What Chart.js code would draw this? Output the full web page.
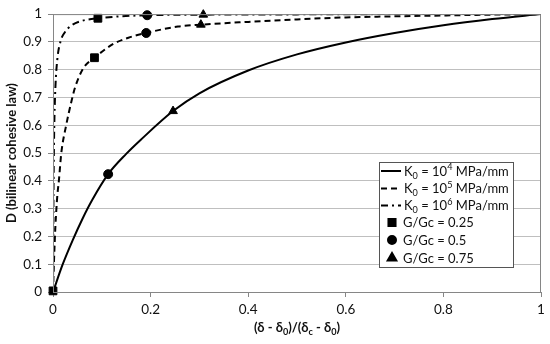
<!DOCTYPE html>
<html>
<head>
<meta charset="utf-8">
<script src="https://cdn.jsdelivr.net/npm/chart.js@4"></script>
<style>
  html, body { margin: 0; padding: 0; background: #fff; }
  #wrap { width: 550px; height: 344px; }
</style>
</head>
<body>
<div id="wrap"><canvas id="chart"></canvas></div>
<script>
// curves: x = (d - d0)/(dc - d0), D = damage
const xK4 = [0, 0.02, 0.04, 0.06, 0.08, 0.113, 0.15, 0.18, 0.246, 0.3, 0.4, 0.5, 0.6, 0.7, 0.8, 0.9, 1];
const dK4 = [0, 0.10, 0.185, 0.262, 0.33, 0.424, 0.497, 0.548, 0.651, 0.715, 0.797, 0.855, 0.898, 0.932, 0.96, 0.982, 1];

const xK5 = [0, 0.002, 0.005, 0.007, 0.009, 0.012, 0.017, 0.027, 0.037, 0.045, 0.062, 0.085, 0.124, 0.158, 0.19, 0.256, 0.303, 0.4, 0.5, 0.6, 0.7, 0.8, 0.9, 1];
const dK5 = [0, 0.11, 0.24, 0.30, 0.35, 0.40, 0.50, 0.60, 0.68, 0.735, 0.805, 0.843, 0.893, 0.917, 0.932, 0.955, 0.962, 0.972, 0.981, 0.988, 0.992, 0.995, 0.998, 1];

const xK6 = [0, 0.001, 0.002, 0.003, 0.005, 0.009, 0.016, 0.024, 0.037, 0.058, 0.092, 0.193, 0.308, 0.5, 0.7, 1];
const dK6 = [0, 0.35, 0.53, 0.63, 0.74, 0.84, 0.905, 0.934, 0.958, 0.975, 0.985, 0.996, 0.998, 0.999, 1, 1];

// markers for G/Gc on each curve (K0 = 1e4, 1e5, 1e6)
const xG25 = [0, 0.085, 0.092];
const dG25 = [0.004, 0.843, 0.985];
const xG50 = [0.113, 0.191, 0.193];
const dG50 = [0.424, 0.932, 0.996];
const xG75 = [0.246, 0.303, 0.308];
const dG75 = [0.651, 0.962, 0.998];

const xTicks = ['0', '0.2', '0.4', '0.6', '0.8', '1'];
const yTicks = ['0', '0.1', '0.2', '0.3', '0.4', '0.5', '0.6', '0.7', '0.8', '0.9', '1'];
const legendExp = ['4', '5', '6'];

const FONT = 'Lato, "Open Sans", sans-serif';

function pts(xs, ys) {
    return xs.map((x, i) => ({ x: x, y: ys[i] }));
};

function curve(label, xs, ys, dash) {
    return {
        label: label, data: pts(xs, ys), showLine: true,
        borderColor: '#000', borderWidth: 2, borderDash: dash,
        pointRadius: 0, cubicInterpolationMode: 'monotone', fill: false
    };
};

function marks(label, xs, ys, style, r) {
    return {
        label: label, data: pts(xs, ys), showLine: false, clip: false,
        pointStyle: style, pointRadius: r, backgroundColor: '#000',
        borderColor: '#000', borderWidth: 1
    };
};

// subscript / superscript text runs
function drawRuns(ctx, runs, x, y, size, bold, align) {
    let w = 0;
    for (let r of runs) {
        ctx.font = (bold ? 'bold ' : '') + (r.s ? size * 0.7 : size) + 'px ' + FONT;
        r.w = ctx.measureText(r.t).width;
        w += r.w;
    };
    let cx = align == 'center' ? x - w / 2 : x;
    ctx.textAlign = 'left';
    ctx.textBaseline = 'alphabetic';
    for (let r of runs) {
        ctx.font = (bold ? 'bold ' : '') + (r.s ? size * 0.7 : size) + 'px ' + FONT;
        let dy = r.s == 'sub' ? size * 0.25 : r.s == 'sup' ? -size * 0.4 : 0;
        ctx.fillText(r.t, cx, y + dy);
        cx += r.w;
    };
};

const extras = {
    id: 'extras',
    afterDraw(chart) {
        const ctx = chart.ctx, a = chart.chartArea;
        ctx.save();
        // plot border
        ctx.strokeStyle = '#868686';
        ctx.lineWidth = 1;
        ctx.strokeRect(a.left + 0.5, a.top + 0.5, a.right - a.left - 1, a.bottom - a.top);

        // x title
        ctx.fillStyle = '#111';
        drawRuns(ctx, [
            { t: '(δ - δ' }, { t: '0', s: 'sub' }, { t: ')/(δ' }, { t: 'c', s: 'sub' },
            { t: ' - δ' }, { t: '0', s: 'sub' }, { t: ')' }
        ], (a.left + a.right) / 2, 332, 13, true, 'center');

        // legend
        const lx = 379, ly = 162, lw = 134, lh = 105;
        ctx.fillStyle = '#fff';
        ctx.fillRect(lx, ly, lw, lh);
        ctx.strokeStyle = '#555';
        ctx.strokeRect(lx + 0.5, ly + 0.5, lw, lh);
        const rowY = [171, 188.5, 205.5, 222.5, 240, 258];
        const sets = chart.data.datasets;
        for (let i = 0; i < 3; i++) {
            ctx.beginPath();
            ctx.strokeStyle = '#000';
            ctx.lineWidth = 2;
            ctx.setLineDash(sets[i].borderDash || []);
            ctx.moveTo(381, rowY[i]);
            ctx.lineTo(401, rowY[i]);
            ctx.stroke();
            ctx.setLineDash([]);
            ctx.fillStyle = '#111';
            drawRuns(ctx, [
                { t: 'K' }, { t: '0', s: 'sub' }, { t: ' = 10' }, { t: legendExp[i], s: 'sup' }, { t: ' MPa/mm' }
            ], 404, rowY[i] + 4.5, 13, false, 'left');
        };
        const legendR = [5, 4, 5];
        for (let i = 3; i < 6; i++) {
            ctx.fillStyle = '#000';
            Chart.helpers.drawPoint(ctx, {
                pointStyle: sets[i].pointStyle, radius: legendR[i - 3], borderWidth: 1, rotation: 0
            }, 392, rowY[i]);
            ctx.fill();
            ctx.fillStyle = '#111';
            ctx.font = '13px ' + FONT;
            ctx.textAlign = 'left';
            ctx.fillText(sets[i].label, 403, rowY[i] + 4.5);
        };
        ctx.restore();
    }
};

new Chart(document.getElementById('chart').getContext('2d'), {
    type: 'scatter',
    data: {
        datasets: [
            curve('K0 = 10^4 MPa/mm', xK4, dK4, []),
            curve('K0 = 10^5 MPa/mm', xK5, dK5, [6, 4]),
            curve('K0 = 10^6 MPa/mm', xK6, dK6, [7, 4, 2, 4]),
            marks('G/Gc = 0.25', xG25, dG25, 'rect', 5.5),
            marks('G/Gc = 0.5', xG50, dG50, 'circle', 4.5),
            marks('G/Gc = 0.75', xG75, dG75, 'triangle', 5)
        ]
    },
    options: {
        responsive: true,
        maintainAspectRatio: false,
        animation: false,
        layout: { padding: { left: 0, right: 9, top: 8, bottom: 0 } },
        plugins: {
            legend: { display: false },
            tooltip: { enabled: false }
        },
        scales: {
            x: {
                type: 'linear', min: 0, max: 1,
                afterFit: s => { s.height = 52; },
                ticks: {
                    stepSize: 0.2, padding: 5, color: '#111',
                    font: { family: FONT, size: 13.5 },
                    callback: (v) => xTicks[Math.round(v / 0.2)]
                },
                grid: { drawOnChartArea: false, drawTicks: true, tickLength: 5, color: '#868686' },
                border: { display: true, color: '#868686' }
            },
            y: {
                type: 'linear', min: 0, max: 1,
                afterFit: s => { s.width = 53; },
                ticks: {
                    stepSize: 0.1, padding: 6, color: '#111',
                    font: { family: FONT, size: 13.5 },
                    callback: (v) => yTicks[Math.round(v / 0.1)]
                },
                grid: { color: '#bfbfbf', tickLength: 5, tickColor: '#868686' },
                border: { display: true, color: '#868686' },
                title: {
                    display: true, text: 'D (bilinear cohesive law)', color: '#111',
                    font: { family: FONT, size: 13, weight: 'bold' }, padding: { top: 4, bottom: 0 }
                }
            }
        }
    },
    plugins: [extras]
});
</script>
</body>
</html>
